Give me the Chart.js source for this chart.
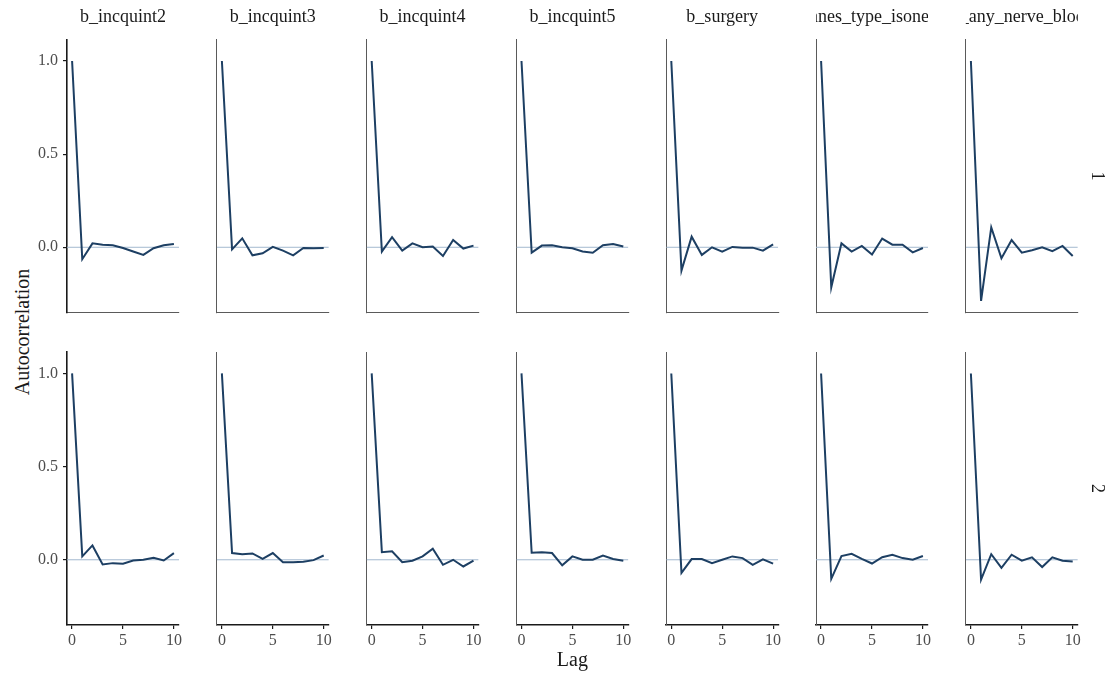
<!DOCTYPE html>
<html>
<head>
<meta charset="utf-8">
<script src="https://cdn.jsdelivr.net/npm/chart.js@4.4.1/dist/chart.umd.min.js"></script>
<style>
  body { margin: 0; background: #fff; }
  #wrap { position: relative; width: 1112px; height: 680px; overflow: hidden; }
  #wrap canvas { position: absolute; }
  #ylab {
    position: absolute; left: 22px; top: 332px;
    transform: translate(-50%, -50%) rotate(-90deg);
    font: 20px "Liberation Serif", serif; color: #1a1a1a; white-space: nowrap;
  }
</style>
</head>
<body>
<div id="wrap"><div id="ylab">Autocorrelation</div></div>
<script>
  const lags = [0, 1, 2, 3, 4, 5, 6, 7, 8, 9, 10];
  const variables = ['b_incquint2', 'b_incquint3', 'b_incquint4', 'b_incquint5',
                     'b_surgery', 'b_anes_type_isonerve', 'b_any_nerve_block'];
  const chains = ['1', '2'];
  const xTicks = [0, 5, 10];
  const yTicks = [0, 0.5, 1];

  // chain 1
  const incquint2Chain1 = [1.0, -0.064, 0.021, 0.013, 0.011, -0.004, -0.023, -0.041, -0.005, 0.011, 0.018];
  const incquint3Chain1 = [1.0, -0.011, 0.048, -0.043, -0.032, 0.002, -0.018, -0.043, -0.004, -0.005, -0.004];
  const incquint4Chain1 = [1.0, -0.023, 0.054, -0.018, 0.021, 0.0, 0.004, -0.047, 0.039, -0.007, 0.009];
  const incquint5Chain1 = [1.0, -0.029, 0.009, 0.011, 0.0, -0.005, -0.023, -0.029, 0.011, 0.018, 0.004];
  const surgeryChain1 = [1.0, -0.125, 0.057, -0.041, 0.0, -0.023, 0.002, -0.002, -0.002, -0.018, 0.016];
  const anesTypeChain1 = [1.0, -0.215, 0.021, -0.023, 0.007, -0.039, 0.047, 0.014, 0.014, -0.027, -0.004];
  const nerveBlockChain1 = [1.0, -0.288, 0.107, -0.059, 0.039, -0.029, -0.016, 0.0, -0.021, 0.007, -0.047];

  // chain 2
  const incquint2Chain2 = [1.0, 0.018, 0.077, -0.025, -0.018, -0.021, -0.004, 0.0, 0.011, -0.004, 0.036];
  const incquint3Chain2 = [1.0, 0.036, 0.030, 0.034, 0.005, 0.036, -0.013, -0.013, -0.011, -0.002, 0.023];
  const incquint4Chain2 = [1.0, 0.041, 0.046, -0.013, -0.005, 0.018, 0.059, -0.027, 0.0, -0.036, -0.004];
  const incquint5Chain2 = [1.0, 0.038, 0.041, 0.036, -0.030, 0.018, 0.0, 0.0, 0.023, 0.004, -0.005];
  const surgeryChain2 = [1.0, -0.070, 0.004, 0.004, -0.018, 0.0, 0.018, 0.009, -0.027, 0.002, -0.021];
  const anesTypeChain2 = [1.0, -0.102, 0.020, 0.032, 0.005, -0.020, 0.014, 0.027, 0.009, 0.0, 0.020];
  const nerveBlockChain2 = [1.0, -0.107, 0.030, -0.043, 0.027, -0.005, 0.013, -0.039, 0.013, -0.005, -0.009];

  const chainSeries = [
    [incquint2Chain1, incquint3Chain1, incquint4Chain1, incquint5Chain1, surgeryChain1, anesTypeChain1, nerveBlockChain1],
    [incquint2Chain2, incquint3Chain2, incquint4Chain2, incquint5Chain2, surgeryChain2, anesTypeChain2, nerveBlockChain2]
  ];

  // facet grid geometry
  const firstAxisX = 67;
  const panelStep = 149.8;
  const panelWidth = 112;
  const panelHeight = 273;
  const rowTops = [39.5, 352];
  const rowCanvas = [[0, 330], [330, 680]];
  const serif = '"Liberation Serif", "Times New Roman", serif';
  const wrap = document.getElementById('wrap');

  // strip labels along the top and right of the grid
  const facetStrip = {
    id: 'facetStrip',
    afterDraw(chart, args, opts) {
      const { ctx, chartArea } = chart;
      ctx.save();
      ctx.font = '18px ' + serif;
      ctx.fillStyle = '#1a1a1a';
      ctx.textAlign = 'center';
      ctx.textBaseline = 'middle';
      if (opts.top) {
        ctx.save();
        ctx.beginPath();
        ctx.rect(chartArea.left, 0, chartArea.right - chartArea.left, chartArea.top);
        ctx.clip();
        ctx.fillText(opts.top, (chartArea.left + chartArea.right) / 2, 17);
        ctx.restore();
      }
      if (opts.right) {
        ctx.translate(chartArea.right + 19, (chartArea.top + chartArea.bottom) / 2);
        ctx.rotate(Math.PI / 2);
        ctx.fillText(opts.right, 0, 0);
      }
      ctx.restore();
    }
  };

  function drawPanel(row, col) {
    const left = firstAxisX + col * panelStep;
    const top = rowTops[row];
    const bottom = top + panelHeight;
    const canvasLeft = col === 0 ? 0 : Math.floor(left) - 14;
    const canvasRight = col === 6 ? 1112 : Math.ceil(left + panelWidth) + 14;
    const [canvasTop, canvasBottom] = rowCanvas[row];

    const canvas = document.createElement('canvas');
    canvas.width = canvasRight - canvasLeft;
    canvas.height = canvasBottom - canvasTop;
    canvas.style.left = canvasLeft + 'px';
    canvas.style.top = canvasTop + 'px';
    wrap.appendChild(canvas);

    const showY = col === 0;
    const showX = row === 1;
    const values = chainSeries[row][col];

    new Chart(canvas, {
      type: 'line',
      data: {
        datasets: [{
          data: lags.map((l, i) => ({ x: l, y: values[i] })),
          borderColor: '#1d3f63',
          borderWidth: 2,
          pointRadius: 0,
          tension: 0
        }, {
          data: [{ x: -0.5, y: 0 }, { x: 10.5, y: 0 }],
          borderColor: '#a3b9cf',
          borderWidth: 1,
          pointRadius: 0
        }]
      },
      options: {
        responsive: false,
        animation: false,
        events: [],
        layout: {
          padding: { left: 0, top: top - canvasTop, right: canvasRight - (left + panelWidth), bottom: 0 }
        },
        plugins: {
          legend: { display: false },
          title: { display: false },
          tooltip: { enabled: false },
          facetStrip: {
            top: row === 0 ? variables[col] : null,
            right: col === 6 ? chains[row] : null
          }
        },
        scales: {
          x: {
            type: 'linear',
            min: -0.5,
            max: 10.5,
            afterBuildTicks: s => { s.ticks = xTicks.map(v => ({ value: v })); },
            afterFit: s => { s.height = canvasBottom - bottom; },
            ticks: {
              display: showX,
              maxRotation: 0,
              autoSkip: false,
              padding: 2,
              color: '#4d4d4d',
              font: { family: serif, size: 16 },
              callback: v => String(v)
            },
            grid: {
              display: showX,
              drawOnChartArea: false,
              drawTicks: true,
              tickLength: 4,
              color: '#1a1a1a',
              lineWidth: 1.2
            },
            border: { display: true, color: showX ? '#1a1a1a' : '#5a5a5a', width: showX ? 1.6 : 1 },
            title: {
              display: showX && col === 3,
              text: 'Lag',
              color: '#1a1a1a',
              font: { family: serif, size: 20 },
              padding: { top: 0, bottom: 7 }
            }
          },
          y: {
            type: 'linear',
            min: -0.35,
            max: 1.115,
            afterBuildTicks: s => { s.ticks = yTicks.map(v => ({ value: v })); },
            afterFit: s => { s.width = left - canvasLeft; },
            ticks: {
              display: showY,
              padding: 5,
              color: '#4d4d4d',
              font: { family: serif, size: 16 },
              callback: v => v.toFixed(1)
            },
            grid: {
              display: showY,
              drawOnChartArea: false,
              drawTicks: true,
              tickLength: 4,
              color: '#1a1a1a',
              lineWidth: 1.2
            },
            border: { display: true, color: showY ? '#1a1a1a' : '#5a5a5a', width: showY ? 1.6 : 1 }
          }
        }
      },
      plugins: [facetStrip]
    });
  }

  for (let r = 0; r < chains.length; r++) {
    for (let c = 0; c < variables.length; c++) {
      drawPanel(r, c);
    }
  }
</script>
</body>
</html>
